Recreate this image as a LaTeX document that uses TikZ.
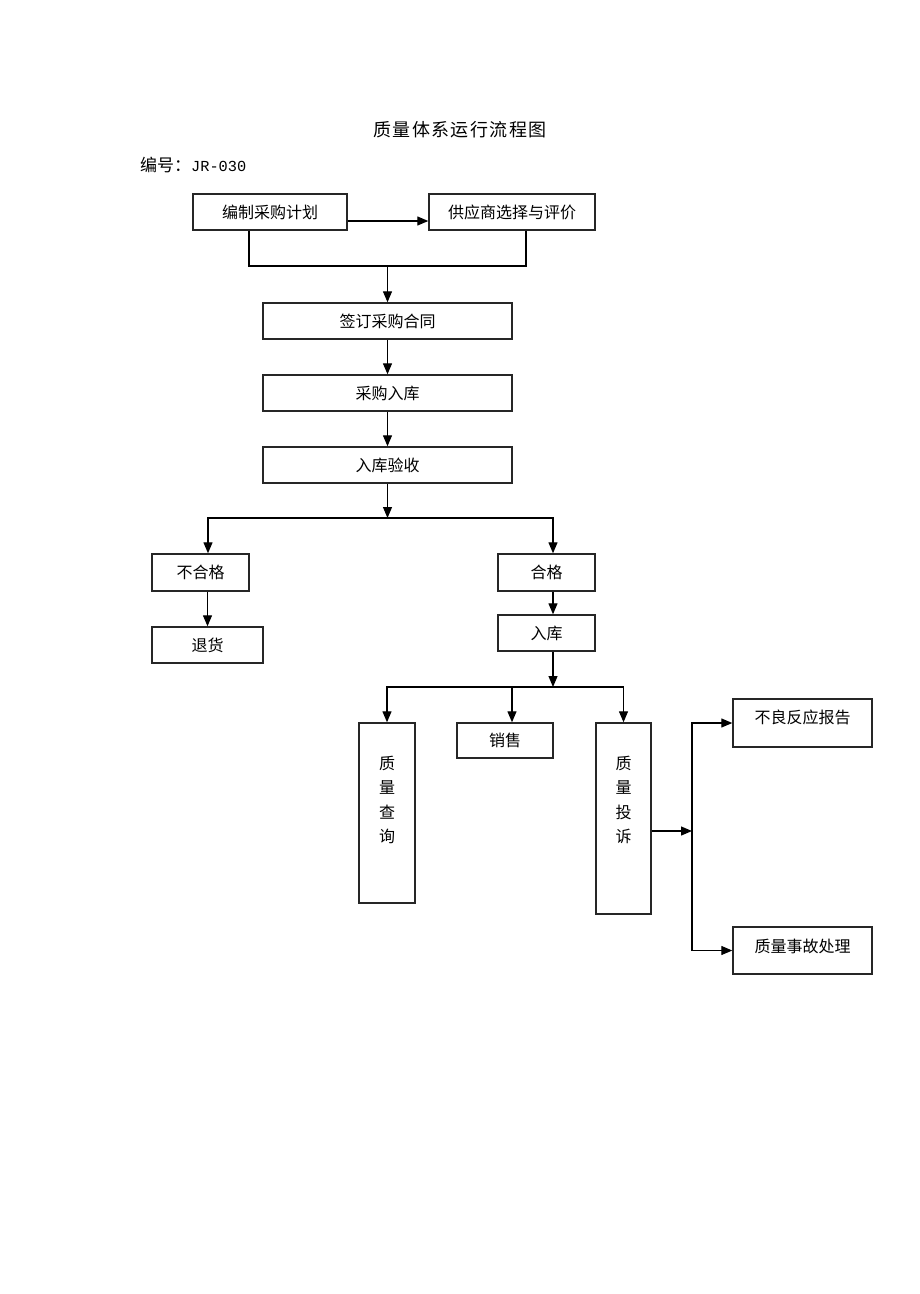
\documentclass[tikz,border=0pt]{standalone}
\usepackage{fontspec}
\newfontfamily\cjk{Noto Sans CJK SC}
\newfontfamily\cjkwide[LetterSpace=8]{Noto Sans CJK SC}
\newfontfamily\monof{Liberation Mono}
\usetikzlibrary{arrows.meta}
\tikzset{
  box/.style={draw=black!85, line width=1.4pt, inner sep=0pt, font=\cjk\fontsize{16}{18}\selectfont},
  vtxt/.style={align=center, inner sep=0pt, font=\cjk\fontsize{16}{24.5}\selectfont},
  txt/.style={inner sep=0pt, font=\cjk\fontsize{16}{18}\selectfont},
  arr/.style={line width=1.2pt, -{Triangle[length=11pt,width=9pt]}},
  ln/.style={line width=1.2pt},
}
\begin{document}
\begin{tikzpicture}[x=1pt,y=-1pt]
\useasboundingbox[fill=white] (0,0) rectangle (920,1294);

% title and number
\node[inner sep=0pt, font=\cjkwide\fontsize{18}{20}\selectfont] (title) at (460,130) {质量体系运行流程图};
\node[anchor=west, inner sep=0pt] (code) at (140,165) {\cjk\fontsize{17}{20}\selectfont 编号：\monof\fontsize{15.3}{20}\selectfont JR-030};

% boxes
\node[box, minimum width=154pt, minimum height=36pt] (bz) at (270,212) {编制采购计划};
\node[box, minimum width=166pt, minimum height=36pt] (gy) at (512,212) {供应商选择与评价};
\node[box, minimum width=249pt, minimum height=36pt] (qd) at (387.5,321) {签订采购合同};
\node[box, minimum width=249pt, minimum height=36pt] (cg) at (387.5,393) {采购入库};
\node[box, minimum width=249pt, minimum height=36pt] (ys) at (387.5,465) {入库验收};
\node[box, minimum width=97pt, minimum height=37pt] (bhg) at (200.5,572.5) {不合格};
\node[box, minimum width=111pt, minimum height=36pt] (th) at (207.5,645) {退货};
\node[box, minimum width=97pt, minimum height=37pt] (hg) at (546.5,572.5) {合格};
\node[box, minimum width=97pt, minimum height=36pt] (rk) at (546.5,633) {入库};
\node[box, minimum width=56pt, minimum height=180pt] (cx) at (387,813) {};
\node[vtxt] (cxt) at (387,800) {质\\量\\查\\询};
\node[box, minimum width=96pt, minimum height=35pt] (xs) at (505,740.5) {销售};
\node[box, minimum width=55pt, minimum height=191pt] (ts) at (623.5,818.5) {};
\node[vtxt] (tst) at (623.5,800) {质\\量\\投\\诉};
\node[box, minimum width=139pt, minimum height=48pt] (bl) at (802.5,723) {};
\node[txt] (blt) at ([yshift=6pt]bl.center) {不良反应报告};
\node[box, minimum width=139pt, minimum height=47pt] (sg) at (802.5,950.5) {};
\node[txt] (sgt) at ([yshift=4.5pt]sg.center) {质量事故处理};

% connectors
\draw[arr] ([yshift=-9pt]bz.east) -- ([yshift=-9pt]gy.west);
\coordinate (m) at (387.5,266);
\draw[ln] ([xshift=-21pt]bz.south) |- (m);
\draw[ln] ([xshift=14pt]gy.south) |- (m);
\draw[arr] (m) -- (qd.north);
\draw[arr] (qd.south) -- (cg.north);
\draw[arr] (cg.south) -- (ys.north);

\coordinate (s1) at (387.5,518);
\draw[arr] (ys.south) -- (s1);
\draw[arr] (s1) -| ([xshift=7.5pt]bhg.north);
\draw[arr] (s1) -| ([xshift=6.5pt]hg.north);
\draw[arr] (th.north |- bhg.south) -- (th.north);
\draw[arr] ([xshift=6.5pt]hg.south) -- ([xshift=6.5pt]rk.north);

\coordinate (s2) at (553,687);
\coordinate (s2x) at (512,687);
\draw[arr] ([xshift=6.5pt]rk.south) -- (s2);
\draw[arr] (s2) -| (cx.north);
\draw[arr] (s2) -| (ts.north);
\draw[arr] (s2x) -- (s2x |- xs.north);

\coordinate (s3) at (692,831);
\draw[arr] (ts.east |- s3) -- (s3);
\draw[arr] (s3) |- (bl.west);
\draw[arr] (s3) |- (sg.west);
\end{tikzpicture}
\end{document}
